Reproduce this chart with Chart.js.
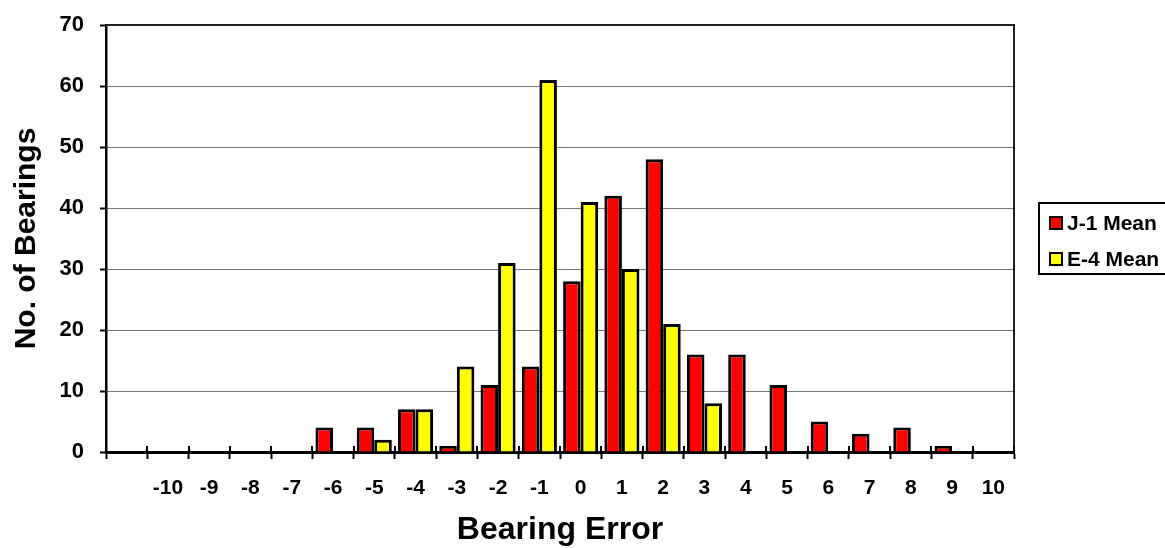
<!DOCTYPE html>
<html>
<head>
<meta charset="utf-8">
<script src="https://cdn.jsdelivr.net/npm/chart.js@4.4.1/dist/chart.umd.min.js"></script>
<style>
  html, body { margin: 0; padding: 0; background: #fff; }
  #wrap { width: 1165px; height: 548px; position: relative; }
</style>
</head>
<body>
<div id="wrap"><canvas id="c" width="1165" height="548"></canvas></div>
<script>
// ---- data ----
const categories = ['', '-10', '-9', '-8', '-7', '-6', '-5', '-4', '-3', '-2', '-1', '0', '1', '2', '3', '4', '5', '6', '7', '8', '9', '10'];
const j1Mean = [0, 0, 0, 0, 0, 4, 4, 7, 1, 11, 14, 28, 42, 48, 16, 16, 11, 5, 3, 4, 1, 0];
const e4Mean = [0, 0, 0, 0, 0, 0, 2, 7, 14, 31, 61, 41, 30, 21, 8, 0, 0, 0, 0, 0, 0, 0];
const seriesNames = ['J-1 Mean', 'E-4 Mean'];
const yTicks = [0, 10, 20, 30, 40, 50, 60, 70];
const xTitle = 'Bearing Error';
const yTitle = 'No. of Bearings';

const FONT = '"Liberation Sans", Arial, sans-serif';

const framePlugin = {
  id: 'frame',
  afterDraw(chart) {
    const ctx = chart.ctx;
    const a = chart.chartArea;
    const xs = chart.scales.x;
    ctx.save();
    // top & right frame
    ctx.strokeStyle = '#222';
    ctx.lineWidth = 2;
    ctx.beginPath();
    ctx.moveTo(a.left, a.top);
    ctx.lineTo(a.right, a.top);
    ctx.lineTo(a.right, a.bottom);
    ctx.stroke();
    // tick marks crossing the category axis (upper part)
    ctx.strokeStyle = '#000';
    ctx.lineWidth = 2;
    const n = xs.getLabels().length;
    const w = (xs.right - xs.left) / n;
    ctx.beginPath();
    for (let i = 0; i <= n; i++) {
      const x = Math.round(xs.left + i * w);
      ctx.moveTo(x, a.bottom - 6);
      ctx.lineTo(x, a.bottom);
    }
    ctx.stroke();
    // legend
    const lx = 1038, ly = 202, lw = 140, lh = 72;
    ctx.lineWidth = 2;
    ctx.strokeStyle = '#000';
    ctx.fillStyle = '#fff';
    ctx.fillRect(lx, ly, lw, lh);
    ctx.strokeRect(lx + 1, ly + 1, lw, lh - 1);
    ctx.font = 'bold 21px ' + FONT;
    ctx.textBaseline = 'middle';
    ctx.textAlign = 'left';
    chart.data.datasets.forEach((ds, i) => {
      const cy = ly + 21 + i * 36;
      ctx.fillStyle = ds.backgroundColor;
      ctx.fillRect(lx + 12, cy - 6, 12, 12);
      ctx.lineWidth = 2;
      ctx.strokeStyle = '#000';
      ctx.strokeRect(lx + 12, cy - 6, 12, 12);
      ctx.fillStyle = '#000';
      ctx.fillText(ds.label, lx + 29, cy + 1);
    });
    ctx.restore();
  }
};

new Chart(document.getElementById('c'), {
  type: 'bar',
  data: {
    labels: categories,
    datasets: [
      { label: seriesNames[0], data: j1Mean, backgroundColor: '#FF0000', borderColor: '#000', borderWidth: 3, borderSkipped: 'start' },
      { label: seriesNames[1], data: e4Mean, backgroundColor: '#FFFF00', borderColor: '#000', borderWidth: 3, borderSkipped: 'start' }
    ]
  },
  options: {
    responsive: false,
    animation: false,
    devicePixelRatio: 1,
    layout: { padding: { left: 0, right: 151, top: 25, bottom: 0 } },
    datasets: { bar: { categoryPercentage: 0.85, barPercentage: 1.0 } },
    plugins: {
      legend: { display: false },
      tooltip: { enabled: false }
    },
    scales: {
      x: {
        offset: true,
        grid: { display: true, drawOnChartArea: false, offset: true, tickLength: 7, tickColor: '#000', tickWidth: 2, color: '#000' },
        border: { display: true, color: '#000', width: 3 },
        ticks: { color: '#000', font: { family: FONT, size: 21, weight: 'bold' }, padding: 17, maxRotation: 0, autoSkip: false },
        title: { display: true, text: xTitle, color: '#000', font: { family: FONT, size: 32, weight: 'bold', lineHeight: 1.1 }, padding: { top: 0, bottom: 0 } },
        afterFit(scale) { scale.height = 96; scale.paddingLeft = 0; scale.paddingRight = 0; }
      },
      y: {
        min: 0, max: 70,
        afterBuildTicks(scale) { scale.ticks = yTicks.map(v => ({ value: v })); },
        grid: { color: '#777', lineWidth: 1, tickLength: 6, tickColor: '#000', tickWidth: 2 },
        border: { display: true, color: '#000', width: 2.5 },
        ticks: { color: '#000', font: { family: FONT, size: 22, weight: 'bold' }, padding: 16 },
        title: { display: true, text: yTitle, color: '#000', font: { family: FONT, size: 30, weight: 'bold' }, padding: { top: 9, bottom: 0 } },
        afterFit(scale) { scale.width = 106; scale.paddingTop = 0; scale.paddingBottom = 0; }
      }
    }
  },
  plugins: [framePlugin]
});
</script>
</body>
</html>
